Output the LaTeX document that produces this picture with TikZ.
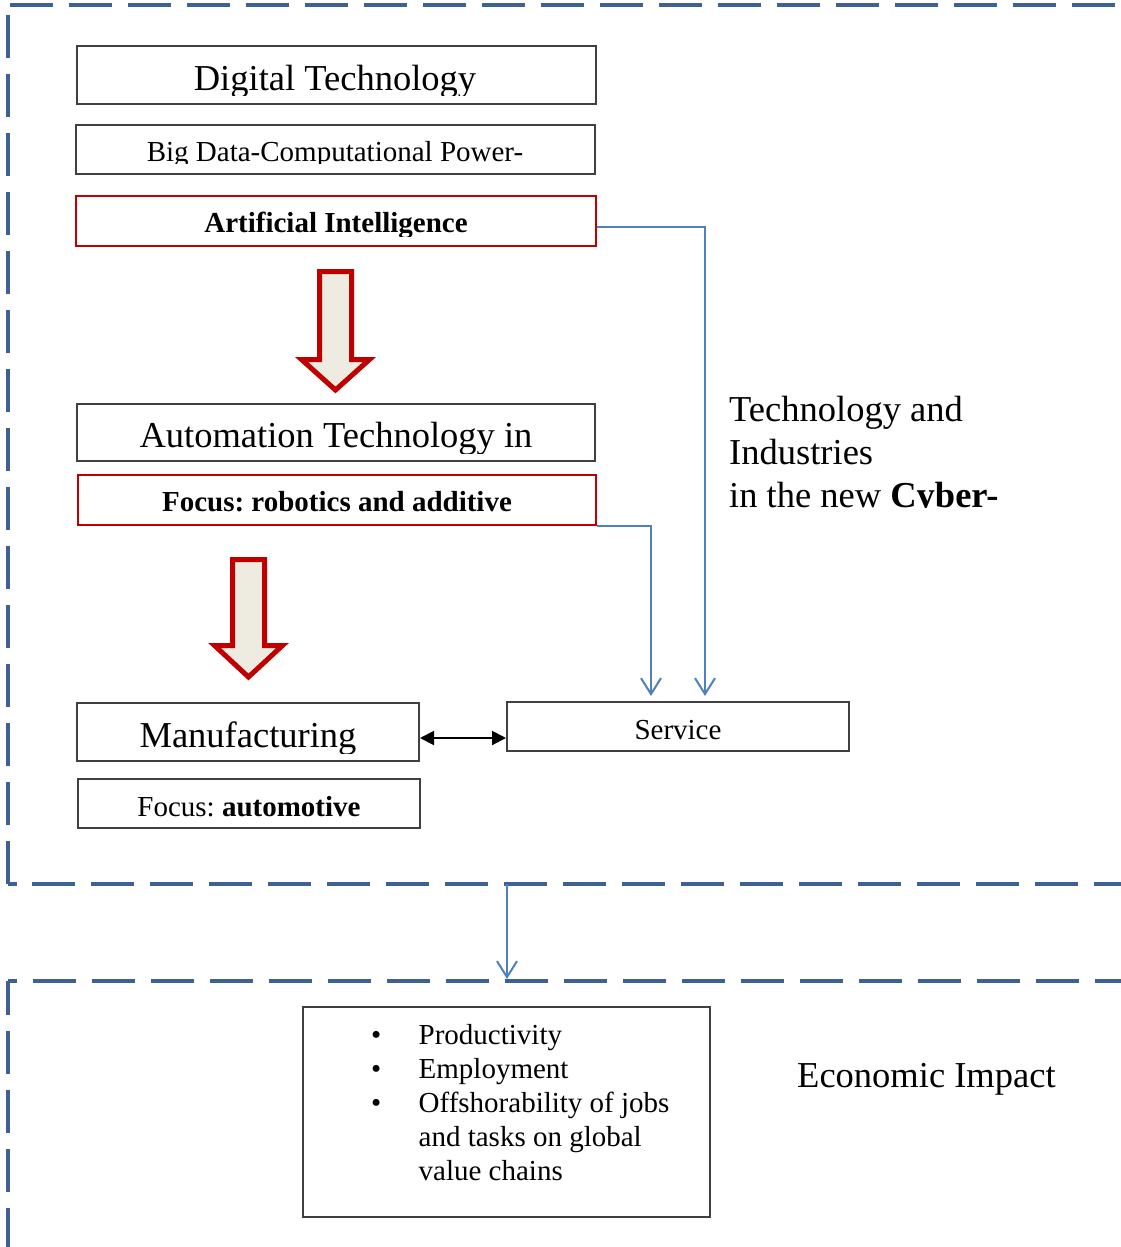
\documentclass[tikz,border=0pt]{standalone}
\usepackage{fontspec}
\setmainfont{Liberation Serif}
\usetikzlibrary{arrows.meta,calc}
\frenchspacing

\definecolor{sectionblue}{RGB}{62,96,146}
\definecolor{linkblue}{RGB}{79,129,189}
\definecolor{boxgray}{RGB}{64,64,64}
\definecolor{accentred}{RGB}{192,0,0}
\definecolor{arrowfill}{RGB}{238,236,225}

\newcommand{\fsbig}{\fontsize{36.5}{43}\selectfont}
\newcommand{\fsmid}{\fontsize{29}{34}\selectfont}
% text whose descenders are cut off at a given height
\newcommand{\cliptext}[5]{%
  \begin{scope}
    \clip (0,0) rectangle (1121,#4);
    \node[boxtext] (#1) at (#2,#3) {#5};
  \end{scope}}

\begin{document}
\begin{tikzpicture}[x=1pt, y=-1pt,
  section/.style={draw=sectionblue, line width=4pt, dash pattern=on 43pt off 16pt},
  plainbox/.style={draw=boxgray, line width=2pt, inner sep=0pt},
  redbox/.style={draw=accentred, line width=2pt, inner sep=0pt},
  boxtext/.style={inner sep=0pt, anchor=base},
  link/.style={draw=linkblue, line width=2pt, -{Straight Barb[length=16pt,width=20pt]}},
  pairlink/.style={draw=black, line width=2pt, {Triangle[length=14pt,width=14pt]}-{Triangle[length=14pt,width=14pt]}},
  blockarrow/.style={draw=accentred, fill=arrowfill, line width=5pt, line join=miter}]

\useasboundingbox (0,0) rectangle (1121,1247);
\clip (0,0) rectangle (1121,1247);
\fill[white] (0,0) rectangle (1121,1247);

% upper dashed section
\draw[section] (10,5) -- (1130,5);
\draw[section] (8,884) -- (8,5);
\draw[section, line cap=butt] (8,884) -- (17,884);
\draw[section] (32,884) -- (1130,884);

% lower dashed section
\draw[section, dash phase=9pt] (8,981) -- (8,1260);
\draw[section] (8,981) -- (17,981);
\draw[section] (33,981) -- (1130,981);
\draw[section] (7,1248.5) -- (1130,1248.5);

% boxes
\node[plainbox, minimum width=519pt, minimum height=58pt] (digital) at (336.5,75) {};
\node[plainbox, minimum width=519pt, minimum height=49pt] (bigdata) at (335.5,149.5) {};
\node[redbox, minimum width=520pt, minimum height=50pt] (ai) at (336,221) {};
\node[plainbox, minimum width=518pt, minimum height=57pt] (automation) at (336,432.5) {};
\node[redbox, minimum width=518pt, minimum height=50pt] (robotics) at (337,500) {};
\node[plainbox, minimum width=342pt, minimum height=58pt] (manufacturing) at (248,732) {};
\node[plainbox, minimum width=342pt, minimum height=49pt] (automotive) at (249,803.5) {};
\node[plainbox, minimum width=342pt, minimum height=49pt] (service) at (678,726.5) {};
\node[plainbox, minimum width=407pt, minimum height=210pt] (impactlist) at (506.5,1112) {};

% box texts
\cliptext{digitaltxt}{335}{90}{95}{\fsbig Digital Technology}
\cliptext{bigdatatxt}{335}{161}{163.5}{\fsmid Big Data-Computational Power-}
\cliptext{aitxt}{336}{232}{236}{\fsmid\bfseries Artificial Intelligence}
\cliptext{automationtxt}{336}{447}{453}{\fsbig Automation Technology in}
\node[boxtext] (roboticstxt) at (337,511) {\fsmid\bfseries Focus: robotics and additive};
\cliptext{manufacturingtxt}{248}{747}{753}{\fsbig Manufacturing}
\node[boxtext] (automotivetxt) at (249,816) {\fsmid Focus: \textbf{automotive}};
\node[boxtext] (servicetxt) at (678,739) {\fsmid Service};

\begin{scope}
  \clip (700,380) rectangle (1121,507);
  \node[inner sep=0pt, anchor=base west, font=\fsbig] (cybertxt) at (729,421)
    {\begin{tabular}[t]{@{}l@{}}Technology and\\Industries\\in the new \textbf{Cyber-}\end{tabular}};
\end{scope}

\node[inner sep=0pt, anchor=base west, font=\fsmid] (impacttxt) at (371,1044)
  {\begin{tabular}[t]{@{}p{47.5pt}@{}l@{}}
   \textbullet & Productivity\\
   \textbullet & Employment\\
   \textbullet & Offshorability of jobs\\
               & and tasks on global\\
               & value chains
   \end{tabular}};
\node[inner sep=0pt, anchor=base west, font=\fsbig] (impacttitle) at (797,1087) {Economic Impact};

% block arrows
\draw[blockarrow] (319.5,271.5) -- (351.5,271.5) -- (351.5,359.5) -- (369.5,359.5)
  -- (335.5,390) -- (301.5,359.5) -- (319.5,359.5) -- cycle;
\draw[blockarrow] (232.5,559.5) -- (264.5,559.5) -- (264.5,645.5) -- (282.5,645.5)
  -- (248.5,677) -- (214.5,645.5) -- (232.5,645.5) -- cycle;

% connectors
\draw[link] ($(ai.east)+(0,6)$) -| ($(service.north)+(27,-5)$);
\draw[link] (robotics.south east) -| ($(service.north)+(-27,-5)$);
\draw[pairlink] ($(manufacturing.east)+(0,6)$) -- ($(service.west)+(0,11.5)$);
\coordinate (upperedge) at (507,884);
\coordinate (loweredge) at (507,979);
\draw[link] (upperedge) -- (loweredge);

\end{tikzpicture}
\end{document}
